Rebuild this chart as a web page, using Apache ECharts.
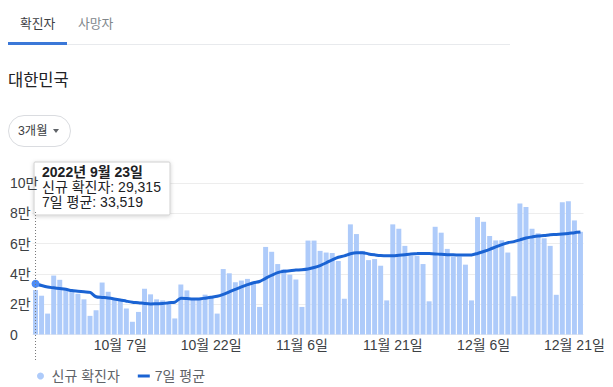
<!DOCTYPE html>
<html><head><meta charset="utf-8">
<script src="https://cdn.jsdelivr.net/npm/echarts@6.0.0/dist/echarts.min.js"></script>
<style>
html,body{margin:0;padding:0;background:#fff;width:613px;height:387px;overflow:hidden;font-family:'Liberation Sans','Noto Sans CJK KR',sans-serif;}
#chart{position:absolute;left:0;top:0;width:613px;height:387px;}
.ui{position:absolute;white-space:nowrap;line-height:1;}
</style></head><body>
<div id="chart"></div>
<div class="ui" style="left:20px;top:17.5px;font-size:12.8px;color:#3c4043">확진자</div>
<div class="ui" style="left:78px;top:17.5px;font-size:12.8px;color:#80868b">사망자</div>
<div class="ui" style="left:66px;top:44px;width:444px;height:1px;background:#e8eaed"></div>
<div class="ui" style="left:8px;top:42px;width:59px;height:3px;background:#3b78d8"></div>
<div class="ui" style="left:8px;top:72px;font-size:16.5px;color:#202124">대한민국</div>
<div class="ui" style="left:8px;top:115px;width:61px;height:30px;border:1px solid #dadce0;border-radius:16px"></div>
<div class="ui" style="left:18px;top:124.5px;font-size:12.3px;color:#3c4043">3개월</div>
<div class="ui" style="left:53px;top:129px;width:0;height:0;border-left:3px solid transparent;border-right:3px solid transparent;border-top:4px solid #5f6368"></div>
<script>
// ---- data ----
const startYear = 2022, startMonth = 9, startDay = 23, dayCount = 91;
const newCases = [
  29315, 25600, 13800, 38900, 36100, 30200, 28500, 26900, 23200, 12300,
  16000, 34300, 28200, 23500, 22500, 17100, 8400, 14900, 30200, 26500,
  23200, 22500, 21000, 10600, 33000, 29100, 23600, 23600, 26300, 25500,
  13800, 43200, 40400, 34500, 35600, 36700, 34800, 18200, 57800, 54600,
  46500, 43000, 39500, 36300, 18200, 62000, 62000, 55200, 54100, 53800,
  48500, 23600, 72700, 66300, 55200, 49100, 49800, 45400, 22500, 72700,
  69800, 58500, 52000, 52000, 46500, 21900, 71100, 67200, 56500, 51400,
  51400, 46100, 22500, 77500, 74400, 65000, 62100, 62200, 54100, 25200,
  86400, 84200, 69800, 66800, 63500, 58500, 26200, 87300, 87900, 75300,
  67800
];
const avg7 = [
  33519, 32300, 31300, 30800, 30300, 29800, 29000, 28600, 28200, 27800,
  24900, 24500, 24100, 23500, 22800, 22000, 21300, 21000, 20500, 20200,
  20300, 20400, 21000, 21300, 24000, 23800, 23500, 23500, 24000, 24600,
  25200, 26500, 28200, 29800, 31400, 32900, 34200, 35000, 37100, 39100,
  40800, 41700, 42100, 42500, 42800, 43300, 44200, 45500, 47300, 49300,
  51000, 51900, 53300, 54000, 54000, 53200, 52600, 52100, 51900, 51900,
  52300, 52700, 53100, 53400, 53500, 53400, 53200, 52900, 52700, 52600,
  52500, 52400, 52500, 53500, 54800, 56200, 57800, 59300, 60600, 61300,
  62500, 63700, 64400, 65000, 65300, 65800, 66000, 66300, 66700, 67200,
  67600
];
const yTicks = [0, 20000, 40000, 60000, 80000, 100000];
const seriesNames = ['신규 확진자', '7일 평균'];
const tipDateLabel = '2022년 9월 23일';

const categories = [];
for (let i = 0; i < dayCount; i++) {
  const d = new Date(Date.UTC(startYear, startMonth - 1, startDay + i));
  categories.push((d.getUTCMonth() + 1) + '월 ' + d.getUTCDate() + '일');
}
const fmt = n => n.toLocaleString('en-US');
const FONT = "'Liberation Sans','Noto Sans CJK KR',sans-serif";

const chart = echarts.init(document.getElementById('chart'), null, {renderer: 'svg'});
chart.setOption({
  animation: false,
  textStyle: {fontFamily: FONT},
  grid: {left: 32.5, right: 29.5, top: 183, bottom: 52.5},
  legend: {
    left: 32, top: 364, itemWidth: 12, itemHeight: 7, itemGap: 18,
    textStyle: {fontSize: 14, color: '#5f6368', fontFamily: FONT},
    data: [
      {name: seriesNames[0], icon: 'circle', itemStyle: {color: '#aecbfa'}},
      {name: seriesNames[1], icon: 'path://M0,0H12V3H0Z', itemStyle: {color: '#1a63d3', borderWidth: 0}}
    ]
  },
  xAxis: {
    type: 'category', data: categories, boundaryGap: true,
    axisLine: {show: false}, axisTick: {show: false},
    axisLabel: {
      interval: (idx) => idx >= 14 && (idx - 14) % 15 === 0,
      fontSize: 14, color: '#3c4043', margin: 3, fontFamily: FONT
    }
  },
  yAxis: {
    type: 'value', min: yTicks[0], max: yTicks[yTicks.length - 1], interval: yTicks[1] - yTicks[0],
    axisLine: {show: false}, axisTick: {show: false},
    splitLine: {lineStyle: {color: '#ededed', width: 1}},
    axisLabel: {
      align: 'left', margin: 22.5, fontSize: 14, color: '#3c4043', fontFamily: FONT,
      formatter: v => v === 0 ? '0' : (v / 10000) + '만'
    }
  },
  series: [
    {name: seriesNames[0], type: 'bar', data: newCases, barCategoryGap: '18%',
     itemStyle: {color: '#aecbfa'}},
    {name: seriesNames[1], type: 'line', data: avg7, smooth: 0.3,
     showSymbol: true, showAllSymbol: true, symbol: 'circle',
     symbolSize: (v, p) => p.dataIndex === 0 ? 8 : 0,
     itemStyle: {color: '#4c8bf5'},
     lineStyle: {color: '#1a63d3', width: 3}, z: 3}
  ]
});

const p0 = chart.convertToPixel({seriesIndex: 1}, [0, avg7[0]]);
const tx = p0[0] - 1.5, ty = 162;
chart.setOption({
  graphic: [
    {type: 'line', z: 50, shape: {x1: p0[0], y1: ty + 50, x2: p0[0], y2: 362},
     style: {stroke: '#777', lineWidth: 1, lineDash: [1, 2]}},
    {type: 'group', x: tx, y: ty, z: 100, children: [
      {type: 'rect', shape: {x: 0, y: 0, width: 136, height: 53, r: 1},
       style: {fill: '#fff', stroke: '#cfcfcf', lineWidth: 1, shadowBlur: 4, shadowColor: 'rgba(0,0,0,0.18)', shadowOffsetY: 1}},
      {type: 'text', x: 8, y: 3, style: {text: tipDateLabel, font: 'bold 14px ' + FONT, fill: '#202124'}},
      {type: 'text', x: 8, y: 18, style: {text: seriesNames[0] + ': ' + fmt(newCases[0]), font: '14px ' + FONT, fill: '#202124'}},
      {type: 'text', x: 8, y: 33, style: {text: seriesNames[1] + ': ' + fmt(avg7[0]), font: '14px ' + FONT, fill: '#202124'}}
    ]}
  ]
});
</script>
</body></html>
